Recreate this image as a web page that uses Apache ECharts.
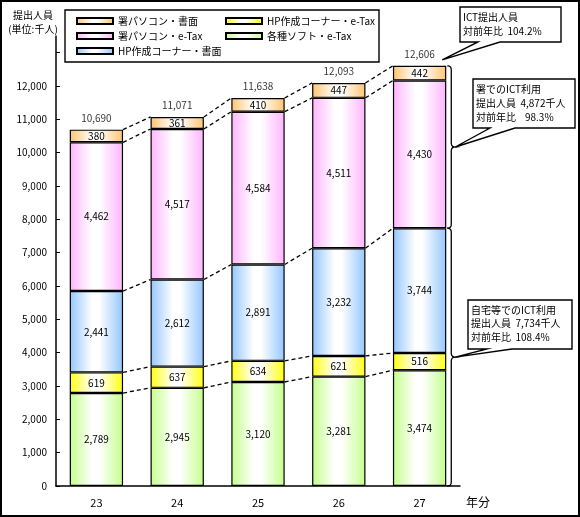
<!DOCTYPE html>
<html>
<head>
<meta charset="utf-8">
<script src="https://cdn.jsdelivr.net/npm/echarts@6/dist/echarts.min.js"></script>
<style>
html,body{margin:0;padding:0;background:#fff;}
#c{width:580px;height:517px;}
</style>
</head>
<body>
<div id="c"></div>
<script>
// ---- data ----
const categories = ['23', '24', '25', '26', '27'];
const softEtax    = [2789, 2945, 3120, 3281, 3474]; // 各種ソフト・e-Tax
const hpEtax      = [619, 637, 634, 621, 516];      // HP作成コーナー・e-Tax
const hpPaper     = [2441, 2612, 2891, 3232, 3744]; // HP作成コーナー・書面
const officeEtax  = [4462, 4517, 4584, 4511, 4430]; // 署パソコン・e-Tax
const officePaper = [380, 361, 410, 447, 442];      // 署パソコン・書面
const totals      = [10690, 11071, 11638, 12093, 12606];
const yLabelValues = [0, 1000, 2000, 3000, 4000, 5000, 6000, 7000, 8000, 9000, 10000, 11000, 12000];
const yTickValues  = [0, 1000, 2000, 3000, 4000, 5000, 6000, 7000, 8000, 9000, 10000, 11000, 12000, 13000];
const calloutTop    = ['ICT提出人員', '対前年比  104.2%'];
const calloutOffice = ['署でのICT利用', '提出人員  4,872千人', '対前年比    98.3%'];
const calloutHome   = ['自宅等でのICT利用', '提出人員  7,734千人', '対前年比  108.4%'];

const FONT = '"Noto Sans CJK JP", "Noto Sans", sans-serif';
const fmt = n => String(n).replace(/\B(?=(\d{3})+(?!\d))/g, ',');
const grad = c => ({type:'linear', x:0, y:0, x2:1, y2:0, colorStops:[
  {offset:0, color:c}, {offset:0.42, color:'#ffffff'}, {offset:0.55, color:'#ffffff'}, {offset:1, color:c}]});

const seriesDefs = [
  {name:'各種ソフト・e-Tax', data:softEtax, color:'#c4ff8c'},
  {name:'HP作成コーナー・e-Tax', data:hpEtax, color:'#ffff10'},
  {name:'HP作成コーナー・書面', data:hpPaper, color:'#94c6ff'},
  {name:'署パソコン・e-Tax', data:officeEtax, color:'#ffb4ff'},
  {name:'署パソコン・書面', data:officePaper, color:'#ffc572'}
];

// cumulative boundaries
const cums = [];
let run = categories.map(() => 0);
seriesDefs.forEach(s => { run = run.map((v, i) => v + s.data[i]); cums.push(run.slice()); });

const BAR_RATIO = 0.66;
const series = seriesDefs.map(s => ({
  type:'bar', name:s.name, stack:'all', data:s.data, barWidth:(BAR_RATIO*100)+'%',
  itemStyle:{color:grad(s.color), borderColor:'#000', borderWidth:1.2},
  label:{show:true, position:'inside', fontSize:10, fontFamily:FONT, color:'#000', formatter:p => fmt(p.value)},
  emphasis:{disabled:true}
}));

cums.forEach(c => {
  series.push({
    type:'custom', silent:true, z:1,
    data:categories.slice(0, -1).map((_, i) => [i, c[i], c[i+1]]),
    encode:{x:0, y:[1, 2]},
    renderItem:(params, api) => {
      const i = api.value(0);
      const half = api.size([1, 0])[0] * BAR_RATIO / 2;
      const p1 = api.coord([i, api.value(1)]);
      const p2 = api.coord([i + 1, api.value(2)]);
      return {type:'line', shape:{x1:p1[0] + half, y1:p1[1], x2:p2[0] - half, y2:p2[1]},
        style:{stroke:'#000', lineWidth:1.3, lineDash:[4, 3]}};
    }
  });
});

series.push({
  type:'scatter', data:totals, symbol:'rect', symbolSize:1, silent:true,
  itemStyle:{color:'rgba(0,0,0,0)'},
  label:{show:true, position:'top', distance:6, fontSize:10, fontFamily:FONT, color:'#000', formatter:p => fmt(p.value)}
});

const chart = echarts.init(document.getElementById('c'), null, {renderer:'canvas'});
const legendText = {fontSize:10, fontFamily:FONT, color:'#000', lineHeight:12};
const option = {
  animation:false,
  backgroundColor:'#fff',
  grid:{left:56, right:120, top:36, bottom:31},
  legend:[
    {orient:'vertical', left:76, top:15, itemWidth:36, itemHeight:6, itemGap:3, selectedMode:false, padding:0,
     data:['署パソコン・書面', '署パソコン・e-Tax', 'HP作成コーナー・書面'], textStyle:legendText, icon:'rect'},
    {orient:'vertical', left:225, top:15, itemWidth:36, itemHeight:6, itemGap:3, selectedMode:false, padding:0,
     data:['HP作成コーナー・e-Tax', '各種ソフト・e-Tax'], textStyle:legendText, icon:'rect'}
  ],
  xAxis:{
    type:'category', data:categories, boundaryGap:true,
    axisLine:{lineStyle:{color:'#000', width:1.5}},
    axisTick:{inside:true, length:4, alignWithLabel:false, lineStyle:{color:'#000'}},
    axisLabel:{fontSize:11, fontFamily:FONT, color:'#000', margin:11},
    name:'年分', nameLocation:'end', nameGap:6,
    nameTextStyle:{fontSize:12, fontFamily:FONT, color:'#000', align:'left', verticalAlign:'top', padding:[10, 0, 0, 0]}
  },
  yAxis:{
    type:'value', min:0, max:13500, interval:1000,
    axisLine:{show:true, lineStyle:{color:'#000', width:1.5}},
    axisTick:{show:true, inside:true, length:4, customValues:yTickValues, lineStyle:{color:'#000'}},
    axisLabel:{fontSize:10, fontFamily:FONT, color:'#000', margin:9, customValues:yLabelValues, formatter:v => fmt(v)},
    splitLine:{show:false}
  },
  series:series
};
chart.setOption(option);

// ---- annotations positioned through the chart's scales ----
const last = categories.length - 1;
const px = v => chart.convertToPixel({gridIndex:0}, [last, v]);
const catW = chart.convertToPixel({gridIndex:0}, [1, 0])[0] - chart.convertToPixel({gridIndex:0}, [0, 0])[0];
const cx = px(0)[0];
const barRight = cx + catW * BAR_RATIO / 2;
const yTop = px(cums[4][last])[1];
const yMid = px(cums[2][last])[1];
const yZero = px(0)[1];

function quad(p0, c, p1, n) {
  const pts = [];
  for (let k = 1; k <= n; k++) {
    const t = k / n, u = 1 - t;
    pts.push([u*u*p0[0] + 2*u*t*c[0] + t*t*p1[0], u*u*p0[1] + 2*u*t*c[1] + t*t*p1[1]]);
  }
  return pts;
}
function brace(yA, yB) {
  const x0 = barRight + 1, x1 = barRight + 5, xt = barRight + 9, r = 4;
  const m = (yA + yB) / 2;
  let pts = [[x0, yA]];
  pts = pts.concat(quad([x0, yA], [x1, yA], [x1, yA + r], 5));
  pts.push([x1, m - r]);
  pts = pts.concat(quad([x1, m - r], [x1, m], [xt, m], 5));
  pts = pts.concat(quad([xt, m], [x1, m], [x1, m + r], 5));
  pts.push([x1, yB - r]);
  pts = pts.concat(quad([x1, yB - r], [x1, yB], [x0, yB], 5));
  return {type:'polyline', silent:true, z:5, shape:{points:pts}, style:{stroke:'#000', lineWidth:1.3, fill:null}};
}
function callout(L, T, R, B, b1, b2, tip, lines, lh) {
  return [
    {type:'polygon', silent:true, z:10,
     shape:{points:[[L, T], [R, T], [R, B], [b2, B], tip, [b1, B], [L, B]]},
     style:{fill:'#fff', stroke:'#000', lineWidth:1.4}},
    {type:'text', silent:true, z:11,
     style:{text:lines.join('\n'), x:L + 3, y:T + 3, font:'10px ' + FONT, fill:'#000', lineHeight:lh, align:'left', verticalAlign:'top'}}
  ];
}
const tipOffice = [barRight + 9, (yTop + yMid) / 2];
const tipHome = [barRight + 9, (yMid + yZero) / 2];
const tipTop = [cx + catW * 0.28, yTop - 6];

const graphics = [
  {type:'rect', silent:true, z:20, shape:{x:1, y:1, width:578, height:515}, style:{fill:null, stroke:'#000', lineWidth:2}},
  {type:'rect', silent:true, z:-1, shape:{x:65, y:10, width:314, height:52}, style:{fill:'#fff', stroke:'#000', lineWidth:1.4}},
  {type:'text', silent:true, style:{text:'提出人員\n(単位:千人)', x:33, y:8, font:'10px ' + FONT, fill:'#000', align:'center', verticalAlign:'top', lineHeight:14}},
  brace(yTop, yMid),
  brace(yMid, yZero)
].concat(
  callout(460, 7, 561, 42, 478, 500, tipTop, calloutTop, 14),
  callout(473, 79, 575, 128, 490, 515, tipOffice, calloutOffice, 14),
  callout(468, 300, 572, 349, 487, 512, tipHome, calloutHome, 13.5)
);
chart.setOption({graphic:graphics});
</script>
</body>
</html>
